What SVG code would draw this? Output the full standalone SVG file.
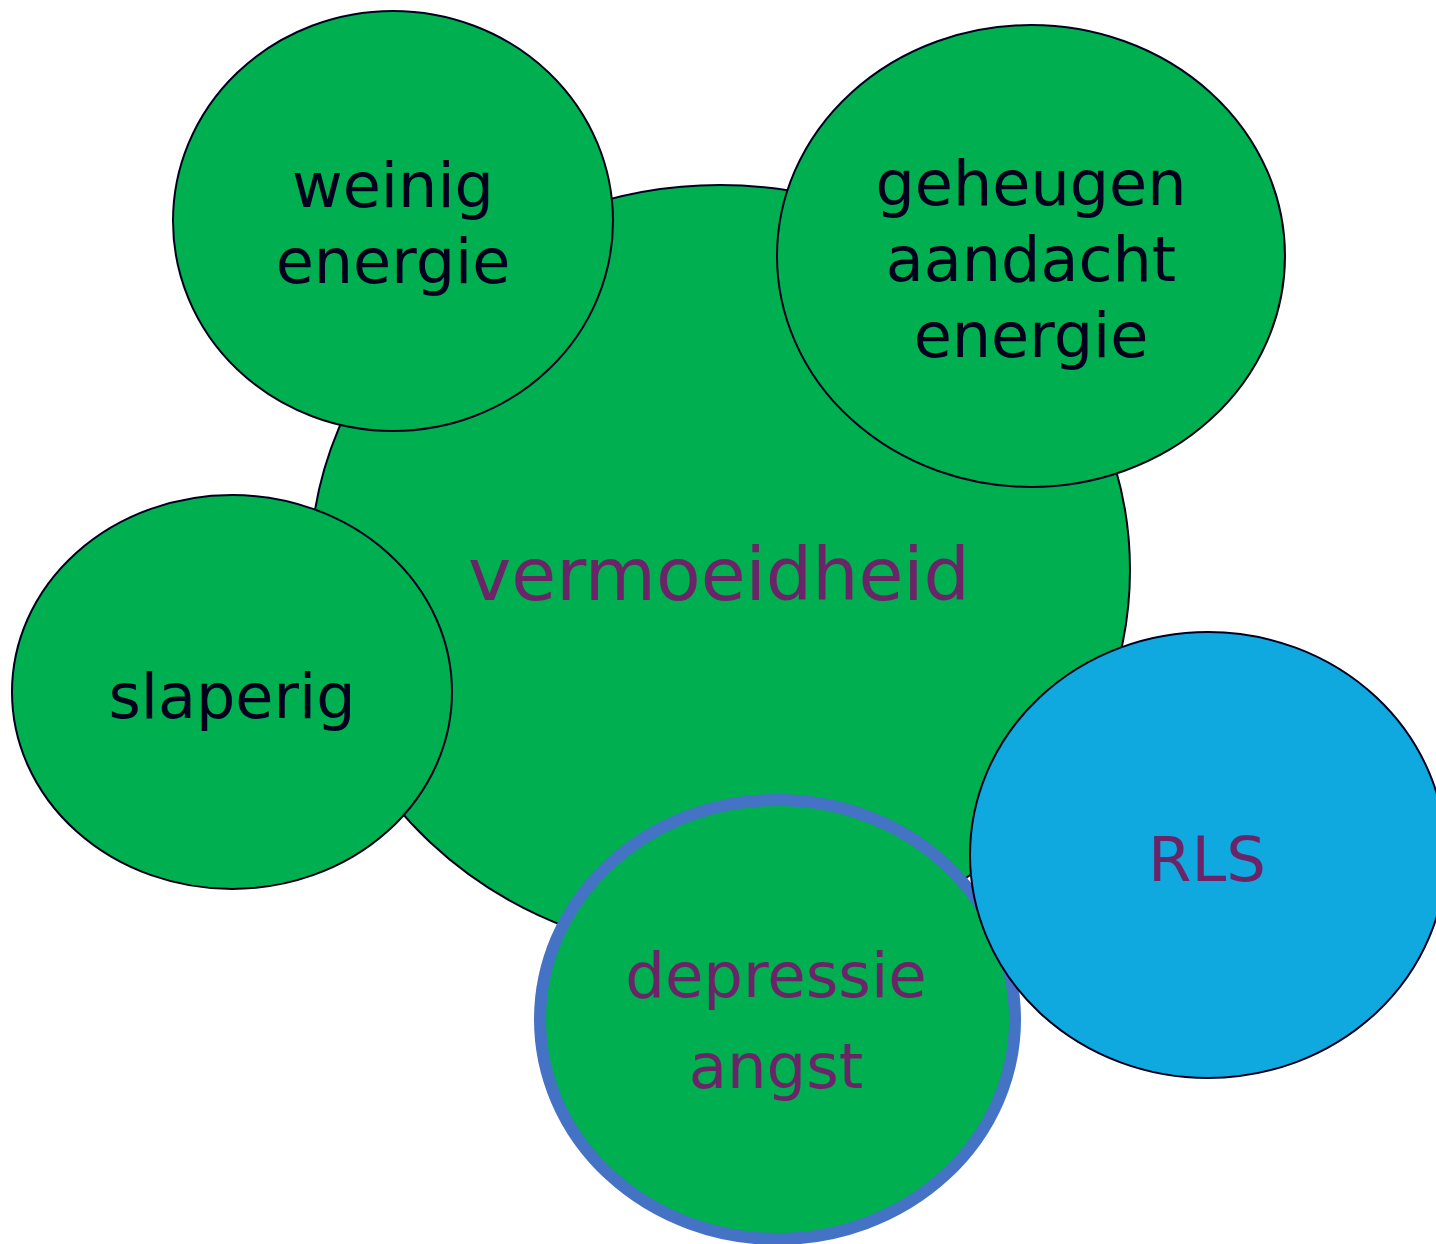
<svg xmlns="http://www.w3.org/2000/svg" width="1436" height="1244" viewBox="0 0 1436 1244">
  <style>
    .bubble { fill: #00AF50; stroke: #00001E; stroke-width: 2; }
    .rls { fill: #0FA8DF; stroke: #00001E; stroke-width: 2; }
    .ring { fill: #00AF50; stroke: #4472C4; stroke-width: 12; }
    text { font-family: "DejaVu Sans", Verdana, sans-serif; text-anchor: middle; }
    .dark { fill: #00001E; font-size: 62px; }
    .plum { fill: #6B2468; font-size: 62.5px; }
    .big { fill: #6B2468; font-size: 73px; }
  </style>
  <rect width="1436" height="1244" fill="#FFFFFF"/>

  <!-- central theme -->
  <g id="vermoeidheid">
    <ellipse class="bubble" cx="720" cy="570" rx="410" ry="385"/>
    <text class="big" x="719" y="600">vermoeidheid</text>
  </g>

  <g id="weinig-energie">
    <ellipse class="bubble" cx="393" cy="221" rx="220" ry="210"/>
    <text class="dark" x="393" y="207">weinig</text>
    <text class="dark" x="393" y="283">energie</text>
  </g>

  <g id="geheugen">
    <ellipse class="bubble" cx="1031" cy="256" rx="254" ry="231"/>
    <text class="dark" x="1031" y="205">geheugen</text>
    <text class="dark" x="1031" y="281">aandacht</text>
    <text class="dark" x="1031" y="357">energie</text>
  </g>

  <g id="slaperig">
    <ellipse class="bubble" cx="232" cy="692" rx="220" ry="197"/>
    <text class="dark" x="232" y="718">slaperig</text>
  </g>

  <g id="depressie-angst">
    <ellipse class="ring" cx="777.5" cy="1019.5" rx="237.5" ry="219.5"/>
    <text class="plum" x="776" y="997">depressie</text>
    <text class="plum" x="776" y="1088">angst</text>
  </g>

  <g id="rls">
    <ellipse class="rls" cx="1208" cy="855" rx="238" ry="223"/>
    <text class="plum" x="1207" y="881">RLS</text>
  </g>

  <g id="connectors"/>
</svg>
